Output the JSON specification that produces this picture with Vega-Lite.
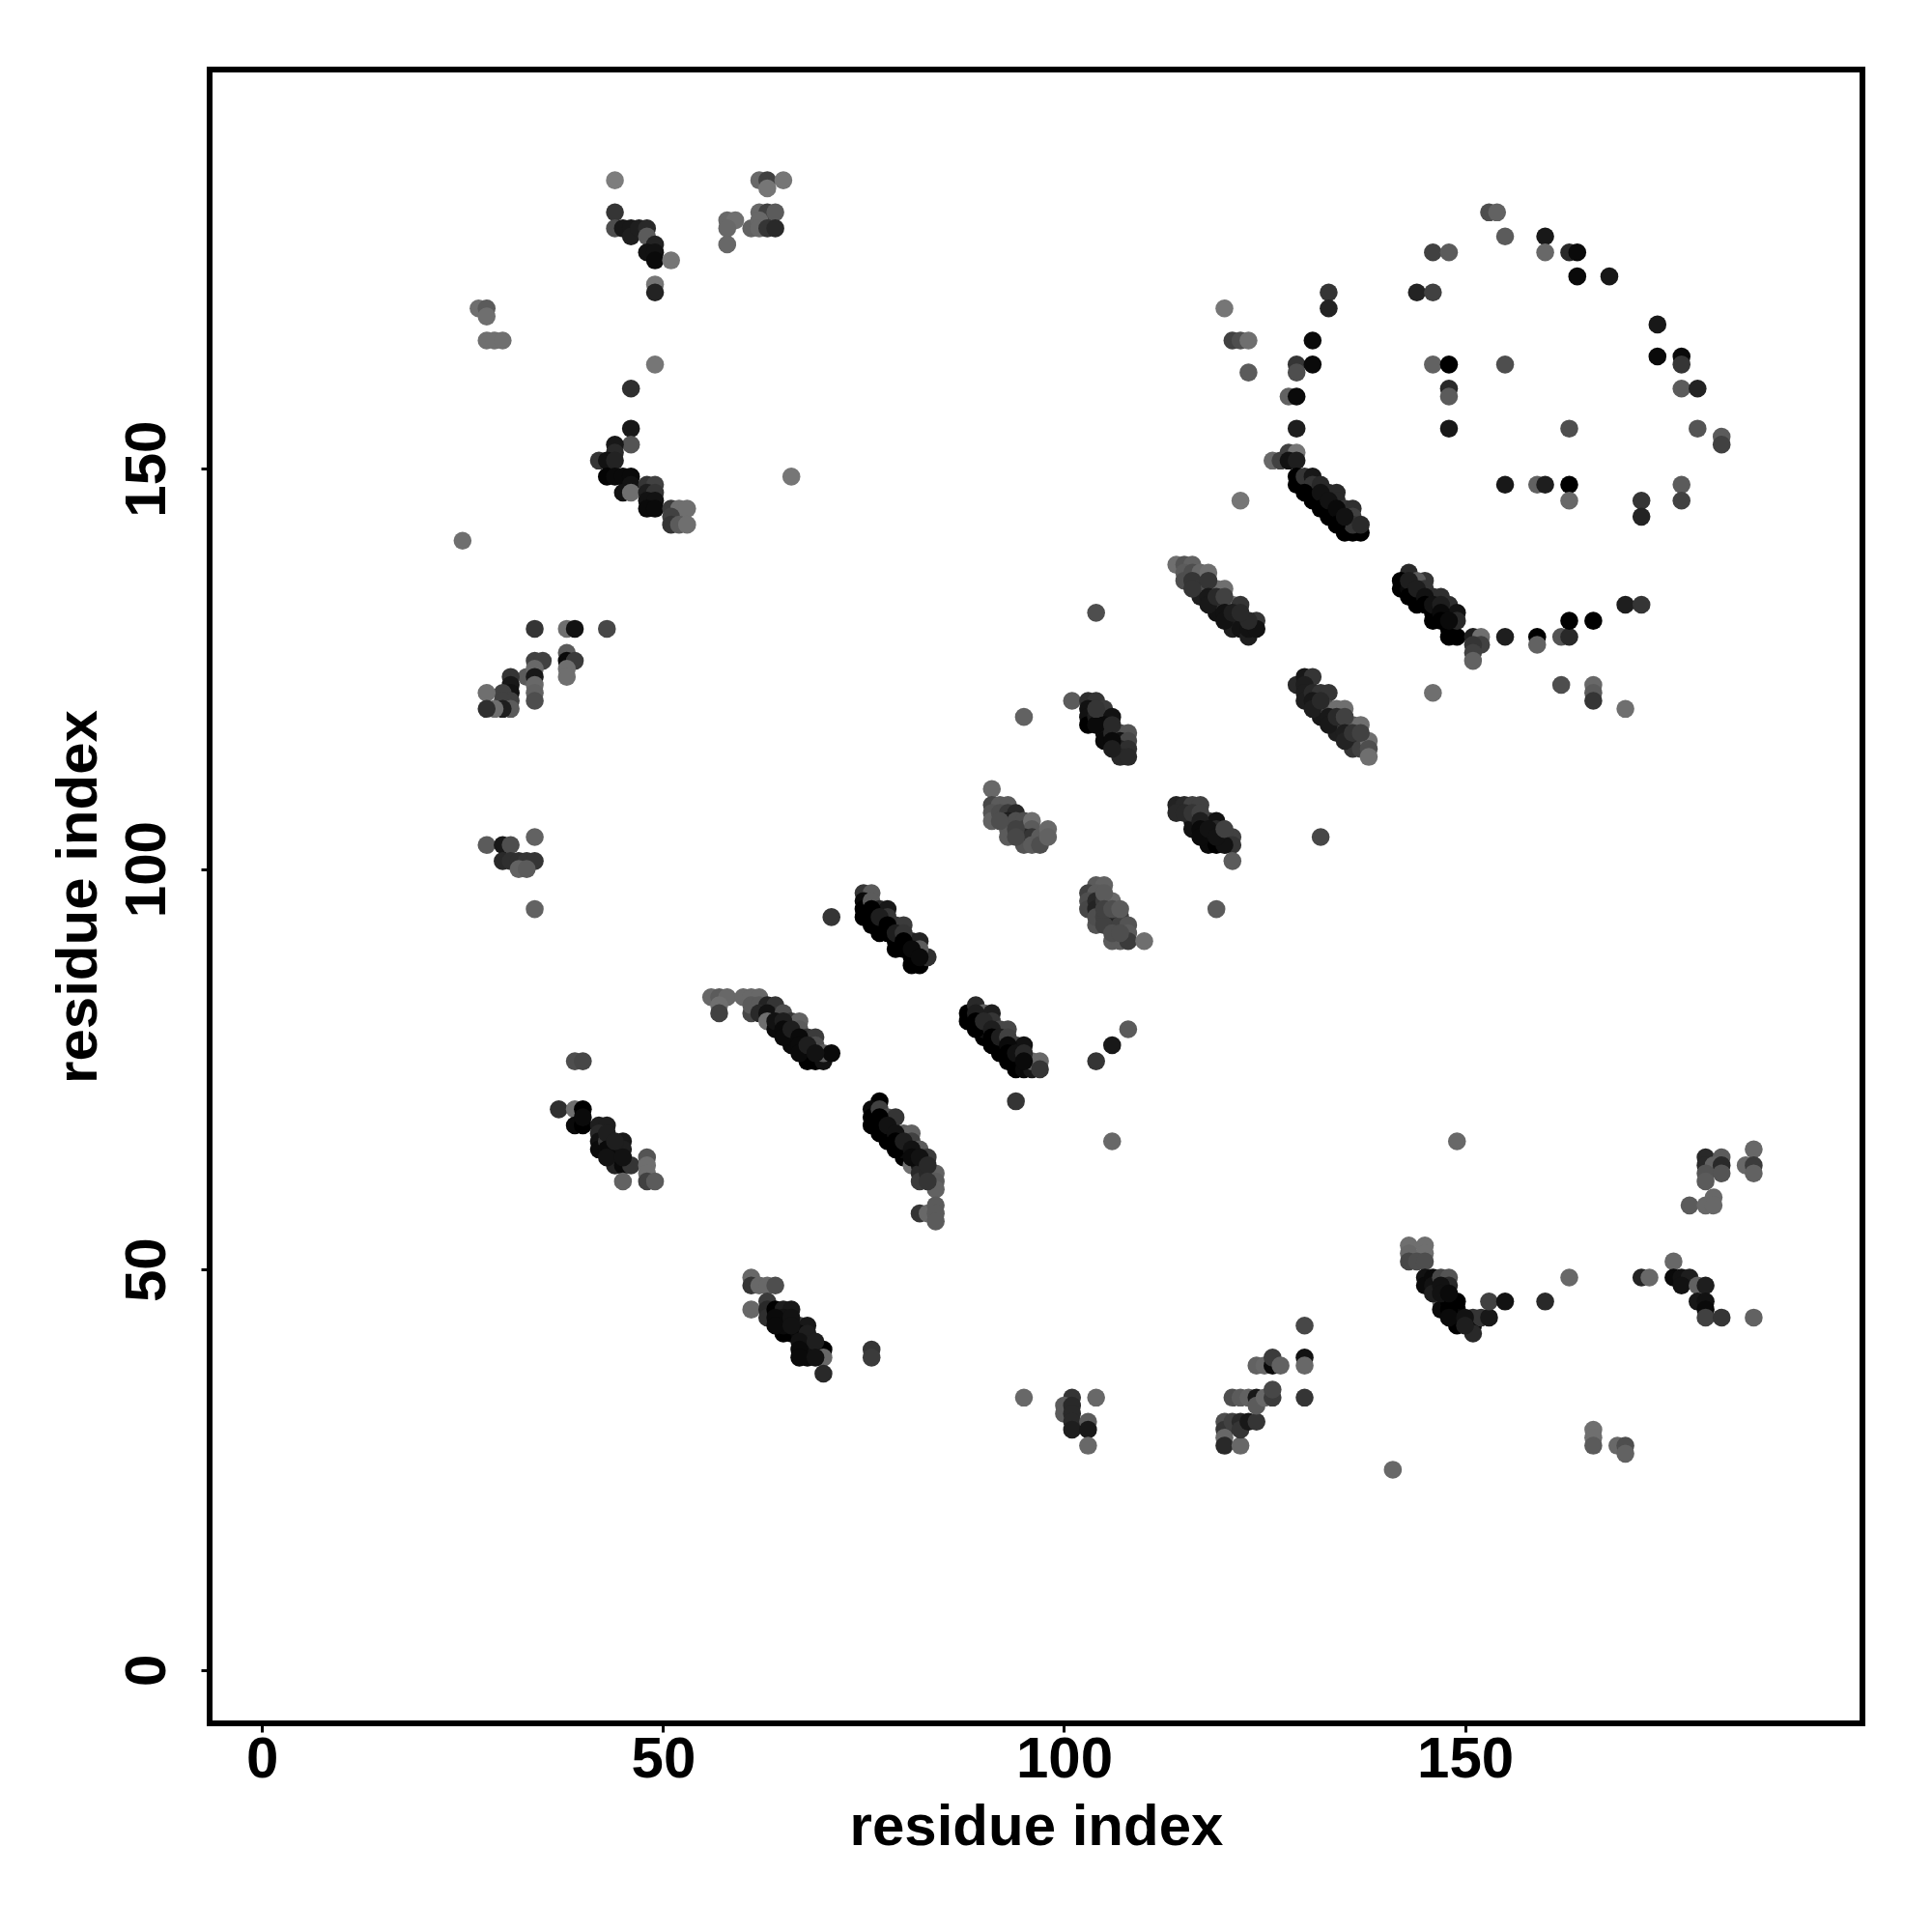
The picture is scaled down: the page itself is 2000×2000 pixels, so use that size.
{"$schema":"https://vega.github.io/schema/vega-lite/v6.json","width":1711,"height":1712,"autosize":{"type":"none"},"padding":{"left":217,"top":72,"right":72,"bottom":216},"background":"white","view":{"stroke":"#000000","strokeWidth":6},"config":{"style":{"cell":{"stroke":"#000000","strokeWidth":6}}},
"data":{"values":[
{"x":44,"y":186,"v":0.05},{"x":44,"y":182,"v":0.6},{"x":44,"y":180,"v":0.4},{"x":45,"y":180,"v":0.85},{"x":46,"y":180,"v":0.85},{"x":46,"y":179,"v":0.8},{"x":47,"y":180,"v":0.8},{"x":48,"y":180,"v":0.7},{"x":48,"y":179,"v":0.3},{"x":49,"y":178,"v":0.75},{"x":48,"y":177,"v":0.9},{"x":49,"y":177,"v":0.9},{"x":49,"y":176,"v":0.95},{"x":51,"y":176,"v":0.1},{"x":49,"y":173,"v":0.1},{"x":49,"y":172,"v":0.75},
{"x":62,"y":186,"v":0.2},{"x":63,"y":186,"v":0.5},{"x":63,"y":185,"v":0.1},{"x":65,"y":186,"v":0.1},{"x":62,"y":182,"v":0.2},{"x":63,"y":182,"v":0.5},{"x":64,"y":182,"v":0.3},{"x":61,"y":180,"v":0.25},{"x":62,"y":181,"v":0.2},{"x":62,"y":180,"v":0.2},{"x":63,"y":180,"v":0.6},{"x":64,"y":180,"v":0.7},{"x":58,"y":181,"v":0.2},{"x":59,"y":181,"v":0.15},{"x":58,"y":180,"v":0.2},{"x":58,"y":178,"v":0.2},
{"x":27,"y":170,"v":0.15},{"x":28,"y":170,"v":0.3},{"x":28,"y":169,"v":0.15},{"x":28,"y":166,"v":0.15},{"x":29,"y":166,"v":0.15},{"x":30,"y":166,"v":0.15},{"x":49,"y":163,"v":0.1},{"x":46,"y":160,"v":0.65},{"x":46,"y":155,"v":0.85},{"x":46,"y":153,"v":0.35},{"x":44,"y":153,"v":0.85},{"x":44,"y":152,"v":0.7},{"x":42,"y":151,"v":0.6},{"x":43,"y":151,"v":0.9},{"x":44,"y":151,"v":0.75},{"x":43,"y":149,"v":0.98},{"x":44,"y":149,"v":0.95},{"x":45,"y":149,"v":0.95},{"x":46,"y":149,"v":0.95},{"x":46,"y":148,"v":0.9},{"x":45,"y":147,"v":0.9},{"x":46,"y":147,"v":0.15},{"x":48,"y":148,"v":0.6},{"x":49,"y":148,"v":0.5},{"x":48,"y":147,"v":0.8},{"x":49,"y":147,"v":0.6},{"x":48,"y":146,"v":0.9},{"x":49,"y":146,"v":0.9},{"x":48,"y":145,"v":0.95},{"x":49,"y":145,"v":0.95},{"x":51,"y":145,"v":0.55},{"x":52,"y":145,"v":0.15},{"x":53,"y":145,"v":0.15},{"x":51,"y":144,"v":0.5},{"x":51,"y":143,"v":0.6},{"x":52,"y":143,"v":0.3},{"x":53,"y":143,"v":0.15},{"x":66,"y":149,"v":0.1},{"x":25,"y":141,"v":0.15},
{"x":34,"y":130,"v":0.6},{"x":38,"y":130,"v":0.15},{"x":39,"y":130,"v":0.9},{"x":43,"y":130,"v":0.45},{"x":38,"y":127,"v":0.3},{"x":38,"y":126,"v":0.95},{"x":39,"y":126,"v":0.55},{"x":38,"y":125,"v":0.15},{"x":38,"y":124,"v":0.15},{"x":34,"y":126,"v":0.5},{"x":35,"y":126,"v":0.5},{"x":33,"y":124,"v":0.3},{"x":34,"y":125,"v":0.2},{"x":34,"y":124,"v":0.85},{"x":34,"y":123,"v":0.2},{"x":34,"y":122,"v":0.25},{"x":34,"y":121,"v":0.4},{"x":31,"y":124,"v":0.6},{"x":31,"y":123,"v":0.85},{"x":31,"y":122,"v":0.9},{"x":30,"y":122,"v":0.5},{"x":28,"y":122,"v":0.15},{"x":31,"y":121,"v":0.5},{"x":30,"y":121,"v":0.5},{"x":31,"y":120,"v":0.3},{"x":30,"y":120,"v":0.8},{"x":29,"y":120,"v":0.15},{"x":28,"y":120,"v":0.65},
{"x":28,"y":103,"v":0.3},{"x":30,"y":103,"v":0.85},{"x":31,"y":103,"v":0.4},{"x":34,"y":104,"v":0.25},{"x":30,"y":101,"v":0.7},{"x":31,"y":101,"v":0.65},{"x":32,"y":101,"v":0.65},{"x":33,"y":101,"v":0.6},{"x":34,"y":101,"v":0.6},{"x":32,"y":100,"v":0.25},{"x":33,"y":100,"v":0.3},{"x":34,"y":95,"v":0.25},
{"x":153,"y":182,"v":0.4},{"x":154,"y":182,"v":0.25},{"x":155,"y":179,"v":0.3},{"x":160,"y":179,"v":0.85},{"x":160,"y":177,"v":0.2},{"x":163,"y":177,"v":0.7},{"x":164,"y":177,"v":0.95},{"x":164,"y":174,"v":0.95},{"x":168,"y":174,"v":0.85},{"x":146,"y":177,"v":0.5},{"x":148,"y":177,"v":0.3},{"x":144,"y":172,"v":0.75},{"x":146,"y":172,"v":0.5},{"x":133,"y":172,"v":0.6},{"x":133,"y":170,"v":0.75},{"x":120,"y":170,"v":0.1},{"x":121,"y":166,"v":0.5},{"x":122,"y":166,"v":0.4},{"x":123,"y":166,"v":0.15},{"x":131,"y":166,"v":0.95},{"x":129,"y":163,"v":0.6},{"x":131,"y":163,"v":0.95},{"x":129,"y":162,"v":0.4},{"x":123,"y":162,"v":0.3},{"x":128,"y":159,"v":0.25},{"x":129,"y":159,"v":0.95},{"x":129,"y":155,"v":0.8},{"x":146,"y":163,"v":0.25},{"x":148,"y":163,"v":1},{"x":155,"y":163,"v":0.4},{"x":148,"y":160,"v":0.7},{"x":148,"y":159,"v":0.3},{"x":148,"y":155,"v":0.85},{"x":163,"y":155,"v":0.4},{"x":174,"y":168,"v":0.85},{"x":174,"y":164,"v":0.95},{"x":177,"y":164,"v":0.95},{"x":177,"y":163,"v":0.6},{"x":177,"y":160,"v":0.3},{"x":179,"y":160,"v":0.75},{"x":179,"y":155,"v":0.35},{"x":182,"y":154,"v":0.3},{"x":182,"y":153,"v":0.5},{"x":155,"y":148,"v":0.85},{"x":159,"y":148,"v":0.25},{"x":160,"y":148,"v":0.8},{"x":163,"y":148,"v":1},{"x":163,"y":146,"v":0.2},{"x":177,"y":148,"v":0.3},{"x":177,"y":146,"v":0.5},{"x":172,"y":146,"v":0.6},{"x":172,"y":144,"v":0.75},{"x":122,"y":146,"v":0.1},
{"x":126,"y":151,"v":0.2},{"x":127,"y":151,"v":0.5},{"x":128,"y":152,"v":0.5},{"x":129,"y":152,"v":0.1},{"x":128,"y":151,"v":0.9},{"x":129,"y":151,"v":0.8},
{"x":129,"y":149,"v":1},{"x":129,"y":148,"v":1},{"x":130,"y":148,"v":1},{"x":131,"y":147,"v":1},{"x":131,"y":146,"v":1},{"x":132,"y":146,"v":1},{"x":133,"y":145,"v":1},{"x":133,"y":144,"v":1},{"x":134,"y":144,"v":1},{"x":135,"y":143,"v":1},{"x":135,"y":142,"v":1},{"x":136,"y":142,"v":1},{"x":137,"y":142,"v":1},{"x":130,"y":149,"v":0.6},{"x":131,"y":149,"v":0.85},{"x":131,"y":148,"v":0.6},{"x":132,"y":148,"v":0.7},{"x":133,"y":147,"v":0.7},{"x":134,"y":147,"v":0.7},{"x":134,"y":146,"v":0.7},{"x":135,"y":145,"v":0.6},{"x":136,"y":145,"v":0.65},{"x":136,"y":144,"v":0.5},{"x":136,"y":143,"v":0.6},{"x":137,"y":143,"v":0.7},
{"x":130,"y":147,"v":1},{"x":132,"y":147,"v":0.9},{"x":132,"y":145,"v":1},{"x":133,"y":146,"v":0.9},{"x":134,"y":145,"v":0.95},{"x":134,"y":143,"v":1},{"x":135,"y":144,"v":0.9},
{"x":114,"y":138,"v":0.15},{"x":115,"y":138,"v":0.35},{"x":116,"y":138,"v":0.25},{"x":115,"y":137,"v":0.3},{"x":115,"y":136,"v":0.4},{"x":116,"y":137,"v":0.4},{"x":117,"y":137,"v":0.2},{"x":118,"y":137,"v":0.15},{"x":117,"y":135,"v":0.7},{"x":117,"y":134,"v":0.8},{"x":118,"y":135,"v":0.4},{"x":119,"y":135,"v":0.15},{"x":120,"y":135,"v":0.15},{"x":119,"y":133,"v":0.85},{"x":119,"y":132,"v":0.9},{"x":120,"y":133,"v":0.6},{"x":121,"y":133,"v":0.15},{"x":122,"y":133,"v":0.6},{"x":121,"y":131,"v":0.95},{"x":121,"y":130,"v":0.8},{"x":122,"y":131,"v":0.8},{"x":122,"y":130,"v":0.9},{"x":123,"y":129,"v":0.8},{"x":123,"y":130,"v":0.9},{"x":124,"y":131,"v":0.6},{"x":124,"y":130,"v":0.9},{"x":123,"y":131,"v":0.7},
{"x":116,"y":136,"v":0.6},{"x":116,"y":135,"v":0.6},{"x":118,"y":136,"v":0.6},{"x":118,"y":134,"v":0.85},{"x":118,"y":133,"v":0.85},{"x":119,"y":134,"v":0.7},{"x":120,"y":134,"v":0.5},{"x":120,"y":132,"v":0.9},{"x":120,"y":131,"v":0.9},{"x":121,"y":132,"v":0.8},{"x":122,"y":132,"v":0.7},
{"x":129,"y":123,"v":0.7},{"x":130,"y":124,"v":0.85},{"x":131,"y":124,"v":0.6},{"x":130,"y":123,"v":0.8},{"x":130,"y":122,"v":0.8},{"x":130,"y":121,"v":0.8},{"x":131,"y":122,"v":0.7},{"x":132,"y":122,"v":0.6},{"x":133,"y":122,"v":0.6},{"x":132,"y":120,"v":0.85},{"x":132,"y":119,"v":0.85},{"x":133,"y":120,"v":0.4},{"x":134,"y":120,"v":0.15},{"x":135,"y":120,"v":0.15},{"x":134,"y":118,"v":0.8},{"x":134,"y":117,"v":0.8},{"x":135,"y":118,"v":0.5},{"x":136,"y":118,"v":0.3},{"x":137,"y":118,"v":0.15},{"x":136,"y":116,"v":0.7},{"x":136,"y":115,"v":0.6},{"x":137,"y":116,"v":0.7},{"x":137,"y":115,"v":0.5},{"x":138,"y":116,"v":0.15},{"x":138,"y":115,"v":0.4},{"x":138,"y":114,"v":0.15},
{"x":131,"y":121,"v":0.85},{"x":131,"y":120,"v":0.8},{"x":132,"y":121,"v":0.7},{"x":133,"y":119,"v":0.85},{"x":133,"y":118,"v":0.85},{"x":134,"y":119,"v":0.7},{"x":135,"y":119,"v":0.5},{"x":135,"y":117,"v":0.8},{"x":135,"y":116,"v":0.75},{"x":136,"y":117,"v":0.6},{"x":137,"y":117,"v":0.5},
{"x":101,"y":121,"v":0.3},{"x":103,"y":121,"v":0.65},{"x":104,"y":121,"v":0.6},{"x":103,"y":120,"v":0.9},{"x":103,"y":119,"v":0.9},{"x":103,"y":118,"v":1},{"x":104,"y":119,"v":0.8},{"x":105,"y":120,"v":0.55},{"x":106,"y":119,"v":0.9},{"x":105,"y":118,"v":0.95},{"x":105,"y":117,"v":0.9},{"x":105,"y":116,"v":0.95},{"x":106,"y":117,"v":0.7},{"x":107,"y":117,"v":0.4},{"x":108,"y":117,"v":0.35},{"x":107,"y":116,"v":0.9},{"x":108,"y":116,"v":0.45},{"x":107,"y":115,"v":0.75},{"x":108,"y":115,"v":0.65},{"x":107,"y":114,"v":0.7},{"x":108,"y":114,"v":0.7},{"x":104,"y":132,"v":0.4},{"x":95,"y":119,"v":0.25},
{"x":104,"y":118,"v":0.95},{"x":104,"y":120,"v":0.6},{"x":106,"y":118,"v":0.7},{"x":106,"y":116,"v":0.95},{"x":106,"y":115,"v":0.8},
{"x":91,"y":110,"v":0.2},{"x":91,"y":108,"v":0.45},{"x":92,"y":108,"v":0.3},{"x":93,"y":108,"v":0.3},{"x":91,"y":107,"v":0.35},{"x":91,"y":106,"v":0.25},{"x":92,"y":107,"v":0.4},{"x":93,"y":107,"v":0.55},{"x":94,"y":107,"v":0.7},{"x":93,"y":106,"v":0.8},{"x":93,"y":105,"v":0.3},{"x":93,"y":104,"v":0.3},{"x":94,"y":106,"v":0.4},{"x":95,"y":106,"v":0.4},{"x":95,"y":105,"v":0.5},{"x":96,"y":106,"v":0.15},{"x":96,"y":105,"v":0.3},{"x":95,"y":104,"v":0.7},{"x":95,"y":103,"v":0.35},{"x":96,"y":104,"v":0.6},{"x":96,"y":103,"v":0.3},{"x":97,"y":104,"v":0.3},{"x":97,"y":103,"v":0.4},{"x":98,"y":105,"v":0.2},{"x":98,"y":104,"v":0.25},{"x":92,"y":106,"v":0.4},{"x":94,"y":105,"v":0.5},{"x":94,"y":104,"v":0.45},
{"x":114,"y":108,"v":0.75},{"x":115,"y":108,"v":0.7},{"x":116,"y":108,"v":0.5},{"x":117,"y":108,"v":0.5},{"x":114,"y":107,"v":0.7},{"x":116,"y":106,"v":0.9},{"x":116,"y":105,"v":0.9},{"x":118,"y":106,"v":0.55},{"x":119,"y":106,"v":0.9},{"x":118,"y":104,"v":0.95},{"x":118,"y":103,"v":0.95},{"x":119,"y":103,"v":1},{"x":120,"y":104,"v":0.55},{"x":121,"y":104,"v":0.5},{"x":121,"y":103,"v":0.6},{"x":120,"y":103,"v":0.9},{"x":119,"y":105,"v":0.7},{"x":121,"y":101,"v":0.3},{"x":132,"y":104,"v":0.45},{"x":119,"y":95,"v":0.3},
{"x":115,"y":107,"v":0.7},{"x":116,"y":107,"v":0.6},{"x":117,"y":107,"v":0.5},{"x":117,"y":106,"v":0.8},{"x":117,"y":105,"v":0.95},{"x":117,"y":104,"v":0.95},{"x":118,"y":105,"v":0.9},{"x":119,"y":104,"v":0.9},{"x":120,"y":105,"v":0.5},
{"x":104,"y":98,"v":0.3},{"x":105,"y":98,"v":0.25},{"x":103,"y":97,"v":0.5},{"x":104,"y":97,"v":0.3},{"x":103,"y":96,"v":0.4},{"x":103,"y":95,"v":0.45},{"x":104,"y":96,"v":0.7},{"x":104,"y":95,"v":0.75},{"x":105,"y":96,"v":0.55},{"x":106,"y":96,"v":0.2},{"x":104,"y":93,"v":0.35},{"x":104,"y":94,"v":0.4},{"x":105,"y":94,"v":0.5},{"x":107,"y":94,"v":0.55},{"x":106,"y":94,"v":0.5},{"x":106,"y":93,"v":0.75},{"x":105,"y":93,"v":0.5},{"x":107,"y":93,"v":0.5},{"x":108,"y":93,"v":0.35},{"x":108,"y":92,"v":0.3},{"x":106,"y":91,"v":0.3},{"x":107,"y":91,"v":0.3},{"x":108,"y":91,"v":0.55},{"x":110,"y":91,"v":0.15},{"x":105,"y":97,"v":0.3},{"x":105,"y":95,"v":0.5},{"x":106,"y":95,"v":0.4},{"x":107,"y":95,"v":0.3},{"x":106,"y":92,"v":0.4},{"x":107,"y":92,"v":0.4},
{"x":56,"y":84,"v":0.2},{"x":57,"y":84,"v":0.3},{"x":58,"y":84,"v":0.2},{"x":57,"y":83,"v":0.15},{"x":57,"y":82,"v":0.5},{"x":60,"y":84,"v":0.2},{"x":61,"y":84,"v":0.2},{"x":62,"y":84,"v":0.2},{"x":61,"y":82,"v":0.45},{"x":61,"y":83,"v":0.3},{"x":62,"y":83,"v":0.3},{"x":63,"y":83,"v":0.75},{"x":64,"y":83,"v":0.6},{"x":62,"y":82,"v":0.7},{"x":63,"y":82,"v":0.9},{"x":65,"y":82,"v":0.4},{"x":63,"y":81,"v":0.15},{"x":64,"y":80,"v":0.95},{"x":64,"y":81,"v":0.9},{"x":66,"y":81,"v":0.6},{"x":67,"y":81,"v":0.25},{"x":66,"y":78,"v":0.95},{"x":66,"y":79,"v":0.95},{"x":67,"y":80,"v":0.3},{"x":68,"y":79,"v":0.6},{"x":69,"y":79,"v":0.55},{"x":68,"y":77,"v":0.95},{"x":68,"y":76,"v":1},{"x":69,"y":76,"v":1},{"x":70,"y":76,"v":0.9},{"x":69,"y":78,"v":0.4},{"x":70,"y":77,"v":0.3},{"x":71,"y":77,"v":0.95},
{"x":65,"y":81,"v":0.8},{"x":65,"y":80,"v":0.95},{"x":65,"y":79,"v":0.95},{"x":66,"y":80,"v":0.8},{"x":67,"y":79,"v":0.95},{"x":67,"y":78,"v":0.95},{"x":67,"y":77,"v":0.95},{"x":68,"y":78,"v":0.8},{"x":69,"y":77,"v":0.9},
{"x":88,"y":82,"v":1},{"x":88,"y":81,"v":1},{"x":89,"y":83,"v":0.7},{"x":90,"y":82,"v":0.25},{"x":91,"y":82,"v":0.8},{"x":90,"y":79,"v":1},{"x":90,"y":80,"v":0.9},{"x":91,"y":81,"v":0.6},{"x":92,"y":80,"v":0.45},{"x":93,"y":80,"v":0.45},{"x":92,"y":77,"v":1},{"x":92,"y":78,"v":1},{"x":94,"y":78,"v":0.5},{"x":95,"y":78,"v":0.9},{"x":94,"y":75,"v":1},{"x":94,"y":76,"v":1},{"x":95,"y":75,"v":0.95},{"x":96,"y":75,"v":0.85},{"x":96,"y":76,"v":0.2},{"x":97,"y":76,"v":0.2},{"x":97,"y":75,"v":0.6},{"x":94,"y":71,"v":0.6},{"x":104,"y":76,"v":0.6},{"x":106,"y":78,"v":0.85},{"x":108,"y":80,"v":0.3},{"x":106,"y":66,"v":0.2},
{"x":89,"y":82,"v":0.8},{"x":89,"y":81,"v":1},{"x":89,"y":80,"v":1},{"x":90,"y":81,"v":0.7},{"x":91,"y":80,"v":0.8},{"x":91,"y":79,"v":1},{"x":91,"y":78,"v":1},{"x":92,"y":79,"v":0.8},{"x":93,"y":79,"v":0.5},{"x":93,"y":78,"v":0.95},{"x":93,"y":77,"v":1},{"x":93,"y":76,"v":1},{"x":94,"y":77,"v":0.9},{"x":95,"y":77,"v":0.7},{"x":95,"y":76,"v":0.95},
{"x":77,"y":71,"v":1},{"x":76,"y":70,"v":0.95},{"x":76,"y":69,"v":1},{"x":76,"y":68,"v":1},{"x":77,"y":70,"v":0.5},{"x":78,"y":69,"v":0.4},{"x":79,"y":69,"v":0.6},{"x":78,"y":66,"v":1},{"x":78,"y":67,"v":1},{"x":80,"y":67,"v":0.3},{"x":81,"y":67,"v":0.25},{"x":80,"y":64,"v":1},{"x":80,"y":65,"v":0.95},{"x":81,"y":66,"v":0.5},{"x":82,"y":65,"v":0.3},{"x":83,"y":64,"v":0.55},{"x":81,"y":63,"v":0.15},{"x":82,"y":63,"v":0.85},{"x":82,"y":62,"v":0.7},{"x":82,"y":61,"v":0.55},{"x":83,"y":62,"v":0.7},{"x":84,"y":62,"v":0.25},{"x":84,"y":61,"v":0.3},{"x":84,"y":60,"v":0.25},{"x":82,"y":57,"v":0.6},{"x":83,"y":57,"v":0.2},{"x":84,"y":58,"v":0.3},{"x":84,"y":57,"v":0.3},{"x":84,"y":56,"v":0.3},
{"x":77,"y":69,"v":1},{"x":77,"y":68,"v":1},{"x":77,"y":67,"v":1},{"x":78,"y":68,"v":0.9},{"x":79,"y":67,"v":0.9},{"x":79,"y":66,"v":1},{"x":79,"y":65,"v":1},{"x":80,"y":66,"v":0.8},{"x":81,"y":65,"v":0.9},{"x":81,"y":64,"v":0.95},{"x":82,"y":64,"v":0.9},{"x":83,"y":63,"v":0.7},{"x":83,"y":61,"v":0.6},
{"x":39,"y":76,"v":0.4},{"x":40,"y":76,"v":0.45},{"x":37,"y":70,"v":0.65},{"x":39,"y":70,"v":0.15},{"x":40,"y":70,"v":1},{"x":39,"y":68,"v":0.95},{"x":40,"y":68,"v":1},{"x":40,"y":69,"v":0.95},{"x":42,"y":68,"v":0.8},{"x":43,"y":68,"v":0.8},{"x":42,"y":67,"v":0.7},{"x":42,"y":66,"v":0.9},{"x":42,"y":65,"v":0.95},{"x":43,"y":66,"v":0.55},{"x":44,"y":65,"v":0.9},{"x":45,"y":66,"v":0.85},{"x":45,"y":65,"v":0.8},{"x":44,"y":64,"v":0.9},{"x":44,"y":63,"v":0.75},{"x":45,"y":63,"v":0.95},{"x":46,"y":63,"v":0.6},{"x":48,"y":64,"v":0.35},{"x":48,"y":63,"v":0.15},{"x":48,"y":62,"v":0.15},{"x":48,"y":61,"v":0.5},{"x":49,"y":61,"v":0.3},{"x":45,"y":61,"v":0.25},
{"x":43,"y":67,"v":0.8},{"x":43,"y":65,"v":0.95},{"x":43,"y":64,"v":0.9},{"x":44,"y":66,"v":0.8},{"x":45,"y":64,"v":0.9},
{"x":61,"y":49,"v":0.2},{"x":61,"y":48,"v":0.6},{"x":62,"y":48,"v":0.2},{"x":63,"y":48,"v":0.2},{"x":64,"y":48,"v":0.4},{"x":61,"y":45,"v":0.2},{"x":63,"y":46,"v":0.55},{"x":63,"y":45,"v":0.7},{"x":63,"y":44,"v":0.65},{"x":64,"y":45,"v":1},{"x":65,"y":45,"v":0.8},{"x":66,"y":45,"v":0.85},{"x":65,"y":44,"v":0.9},{"x":65,"y":42,"v":1},{"x":66,"y":42,"v":1},{"x":65,"y":43,"v":0.95},{"x":67,"y":43,"v":0.5},{"x":68,"y":43,"v":0.85},{"x":67,"y":42,"v":0.95},{"x":68,"y":42,"v":0.8},{"x":68,"y":40,"v":0.95},{"x":68,"y":39,"v":0.95},{"x":69,"y":40,"v":0.9},{"x":70,"y":40,"v":1},{"x":70,"y":39,"v":0.2},{"x":70,"y":37,"v":0.7},{"x":76,"y":40,"v":0.6},{"x":76,"y":39,"v":0.55},
{"x":64,"y":44,"v":0.95},{"x":64,"y":43,"v":0.95},{"x":66,"y":44,"v":0.9},{"x":66,"y":43,"v":0.9},{"x":67,"y":41,"v":0.9},{"x":67,"y":40,"v":0.95},{"x":67,"y":39,"v":0.95},{"x":69,"y":41,"v":0.8},{"x":69,"y":39,"v":0.9},
{"x":149,"y":66,"v":0.2},{"x":95,"y":34,"v":0.2},{"x":101,"y":34,"v":0.6},{"x":100,"y":33,"v":0.3},{"x":100,"y":32,"v":0.3},{"x":101,"y":33,"v":0.7},{"x":101,"y":32,"v":0.7},{"x":101,"y":31,"v":0.7},{"x":101,"y":30,"v":0.8},{"x":103,"y":31,"v":0.3},{"x":103,"y":30,"v":0.85},{"x":103,"y":28,"v":0.2},{"x":104,"y":34,"v":0.2},
{"x":120,"y":31,"v":0.4},{"x":120,"y":30,"v":0.6},{"x":120,"y":29,"v":0.2},{"x":120,"y":28,"v":0.7},{"x":122,"y":28,"v":0.2},{"x":121,"y":31,"v":0.5},{"x":122,"y":31,"v":0.7},{"x":122,"y":30,"v":0.6},{"x":123,"y":31,"v":0.85},{"x":124,"y":31,"v":0.6},{"x":121,"y":34,"v":0.4},{"x":122,"y":34,"v":0.3},{"x":123,"y":34,"v":0.25},{"x":124,"y":34,"v":0.85},{"x":124,"y":33,"v":0.3},{"x":125,"y":34,"v":0.2},{"x":126,"y":34,"v":0.55},{"x":126,"y":35,"v":0.45},{"x":124,"y":38,"v":0.25},{"x":125,"y":38,"v":0.2},{"x":126,"y":38,"v":0.95},{"x":126,"y":39,"v":0.55},{"x":127,"y":38,"v":0.25},{"x":130,"y":43,"v":0.45},{"x":130,"y":39,"v":0.9},{"x":130,"y":38,"v":0.2},{"x":130,"y":34,"v":0.6},{"x":141,"y":25,"v":0.2},{"x":166,"y":30,"v":0.15},{"x":166,"y":29,"v":0.15},{"x":166,"y":28,"v":0.3},{"x":169,"y":28,"v":0.2},{"x":170,"y":28,"v":0.4},{"x":170,"y":27,"v":0.25},
{"x":143,"y":53,"v":0.15},{"x":145,"y":53,"v":0.15},{"x":143,"y":52,"v":0.2},{"x":145,"y":52,"v":0.15},{"x":143,"y":51,"v":0.45},{"x":144,"y":51,"v":0.4},{"x":145,"y":51,"v":0.4},{"x":145,"y":49,"v":0.9},{"x":145,"y":48,"v":0.95},{"x":146,"y":49,"v":0.95},{"x":146,"y":48,"v":0.9},{"x":147,"y":49,"v":0.45},{"x":148,"y":49,"v":0.35},{"x":148,"y":48,"v":0.7},{"x":147,"y":46,"v":0.2},{"x":147,"y":45,"v":0.95},{"x":148,"y":46,"v":1},{"x":149,"y":46,"v":1},{"x":149,"y":45,"v":1},{"x":149,"y":44,"v":0.95},{"x":149,"y":43,"v":1},{"x":148,"y":45,"v":1},{"x":151,"y":44,"v":0.6},{"x":151,"y":43,"v":0.95},{"x":151,"y":42,"v":0.7},{"x":152,"y":44,"v":0.6},{"x":153,"y":44,"v":0.85},{"x":153,"y":46,"v":0.5},{"x":155,"y":46,"v":0.9},{"x":160,"y":46,"v":0.7},{"x":163,"y":49,"v":0.2},{"x":172,"y":49,"v":0.75},{"x":173,"y":49,"v":0.2},{"x":176,"y":51,"v":0.2},{"x":176,"y":49,"v":0.95},{"x":177,"y":49,"v":0.9},{"x":178,"y":49,"v":0.8},{"x":177,"y":48,"v":0.9},{"x":179,"y":48,"v":0.25},{"x":180,"y":48,"v":0.8},{"x":179,"y":46,"v":0.85},{"x":180,"y":46,"v":0.9},{"x":180,"y":45,"v":0.95},{"x":180,"y":44,"v":0.5},{"x":182,"y":44,"v":0.6},{"x":186,"y":44,"v":0.25},
{"x":146,"y":47,"v":0.8},{"x":147,"y":48,"v":0.9},{"x":147,"y":47,"v":0.9},{"x":148,"y":47,"v":0.95},{"x":148,"y":44,"v":0.95},{"x":150,"y":44,"v":0.9},{"x":150,"y":43,"v":0.8},
{"x":180,"y":64,"v":0.7},{"x":182,"y":64,"v":0.3},{"x":186,"y":65,"v":0.2},{"x":185,"y":63,"v":0.2},{"x":186,"y":63,"v":0.55},{"x":186,"y":62,"v":0.25},{"x":180,"y":63,"v":0.7},{"x":181,"y":63,"v":0.25},{"x":182,"y":63,"v":0.7},{"x":180,"y":62,"v":0.35},{"x":182,"y":62,"v":0.35},{"x":180,"y":61,"v":0.3},{"x":181,"y":59,"v":0.2},{"x":178,"y":58,"v":0.3},{"x":180,"y":58,"v":0.2},{"x":181,"y":58,"v":0.2},
{"x":143,"y":137,"v":0.7},{"x":142,"y":136,"v":1},{"x":142,"y":135,"v":1},{"x":143,"y":135,"v":0.95},{"x":145,"y":136,"v":0.6},{"x":144,"y":136,"v":0.3},{"x":144,"y":133,"v":1},{"x":144,"y":134,"v":1},{"x":145,"y":135,"v":0.6},{"x":146,"y":134,"v":0.65},{"x":147,"y":134,"v":0.65},{"x":146,"y":131,"v":1},{"x":146,"y":132,"v":1},{"x":148,"y":133,"v":0.65},{"x":149,"y":132,"v":0.9},{"x":148,"y":129,"v":1},{"x":148,"y":130,"v":1},{"x":149,"y":129,"v":1},{"x":149,"y":131,"v":0.7},{"x":151,"y":129,"v":0.8},{"x":152,"y":129,"v":0.15},{"x":152,"y":128,"v":0.5},{"x":151,"y":128,"v":0.6},{"x":151,"y":127,"v":0.5},{"x":151,"y":126,"v":0.25},{"x":155,"y":129,"v":0.8},{"x":159,"y":129,"v":1},{"x":159,"y":128,"v":0.25},{"x":162,"y":129,"v":0.35},{"x":163,"y":129,"v":0.7},{"x":163,"y":131,"v":1},{"x":166,"y":131,"v":1},{"x":170,"y":133,"v":0.8},{"x":172,"y":133,"v":0.6},{"x":146,"y":122,"v":0.15},{"x":162,"y":123,"v":0.4},{"x":166,"y":123,"v":0.2},{"x":166,"y":122,"v":0.3},{"x":166,"y":121,"v":0.6},{"x":170,"y":120,"v":0.15},
{"x":143,"y":136,"v":0.8},{"x":143,"y":134,"v":1},{"x":144,"y":135,"v":0.8},{"x":145,"y":134,"v":0.9},{"x":145,"y":133,"v":1},{"x":146,"y":133,"v":0.9},{"x":147,"y":133,"v":0.8},{"x":147,"y":132,"v":0.95},{"x":147,"y":131,"v":1},{"x":148,"y":131,"v":0.95},
{"x":75,"y":97,"v":0.6},{"x":76,"y":97,"v":0.3},{"x":75,"y":96,"v":0.95},{"x":75,"y":95,"v":1},{"x":75,"y":94,"v":1},{"x":76,"y":96,"v":0.3},{"x":77,"y":95,"v":0.7},{"x":78,"y":95,"v":0.85},{"x":77,"y":92,"v":1},{"x":77,"y":93,"v":1},{"x":78,"y":94,"v":0.6},{"x":79,"y":93,"v":0.6},{"x":80,"y":93,"v":0.55},{"x":79,"y":90,"v":1},{"x":79,"y":91,"v":1},{"x":81,"y":91,"v":0.75},{"x":82,"y":91,"v":0.75},{"x":81,"y":88,"v":1},{"x":81,"y":89,"v":1},{"x":82,"y":88,"v":1},{"x":83,"y":89,"v":0.65},{"x":82,"y":90,"v":0.3},{"x":71,"y":94,"v":0.6},
{"x":76,"y":95,"v":1},{"x":76,"y":94,"v":1},{"x":76,"y":93,"v":1},{"x":77,"y":94,"v":0.8},{"x":78,"y":93,"v":1},{"x":78,"y":92,"v":1},{"x":79,"y":92,"v":0.8},{"x":80,"y":92,"v":0.6},{"x":80,"y":91,"v":1},{"x":80,"y":90,"v":1},{"x":81,"y":90,"v":0.95},{"x":82,"y":89,"v":0.95}
]},
"mark":{"type":"point","shape":"circle","filled":true,"size":345,"opacity":1},
"encoding":{
"x":{"field":"x","type":"quantitative","scale":{"domain":[-6.54,199.56],"nice":false,"zero":false},
"axis":{"values":[0,50,100,150],"title":"residue index","grid":false,"domain":false,"tickSize":9,"tickWidth":3,"tickColor":"#000","labelFont":"Liberation Sans","labelFontWeight":"bold","labelFontSize":60,"labelColor":"#000","labelBaseline":"alphabetic","labelPadding":46,"labelAngle":0,"labelAlign":"center","titleFont":"Liberation Sans","titleFontWeight":"bold","titleFontSize":60,"titleColor":"#000","titleBaseline":"alphabetic","titleY":125,"labelOverlap":false}},
"y":{"field":"y","type":"quantitative","scale":{"domain":[-6.67,199.83],"nice":false,"zero":false},
"axis":{"values":[0,50,100,150],"title":"residue index","grid":false,"domain":false,"tickSize":9,"tickWidth":3,"tickColor":"#000","labelFont":"Liberation Sans","labelFontWeight":"bold","labelFontSize":60,"labelColor":"#000","labelAngle":-90,"labelAlign":"center","labelBaseline":"alphabetic","labelPadding":38,"titleFont":"Liberation Sans","titleFontWeight":"bold","titleFontSize":60,"titleColor":"#000","titleAngle":-90,"titleBaseline":"alphabetic","titleX":-118,"labelOverlap":false}},
"color":{"field":"v","type":"quantitative","scale":{"domain":[0,1],"range":["#848484","#000000"]},"legend":null},
"order":[{"field":"x","type":"quantitative"},{"field":"y","type":"quantitative"}]
}}
